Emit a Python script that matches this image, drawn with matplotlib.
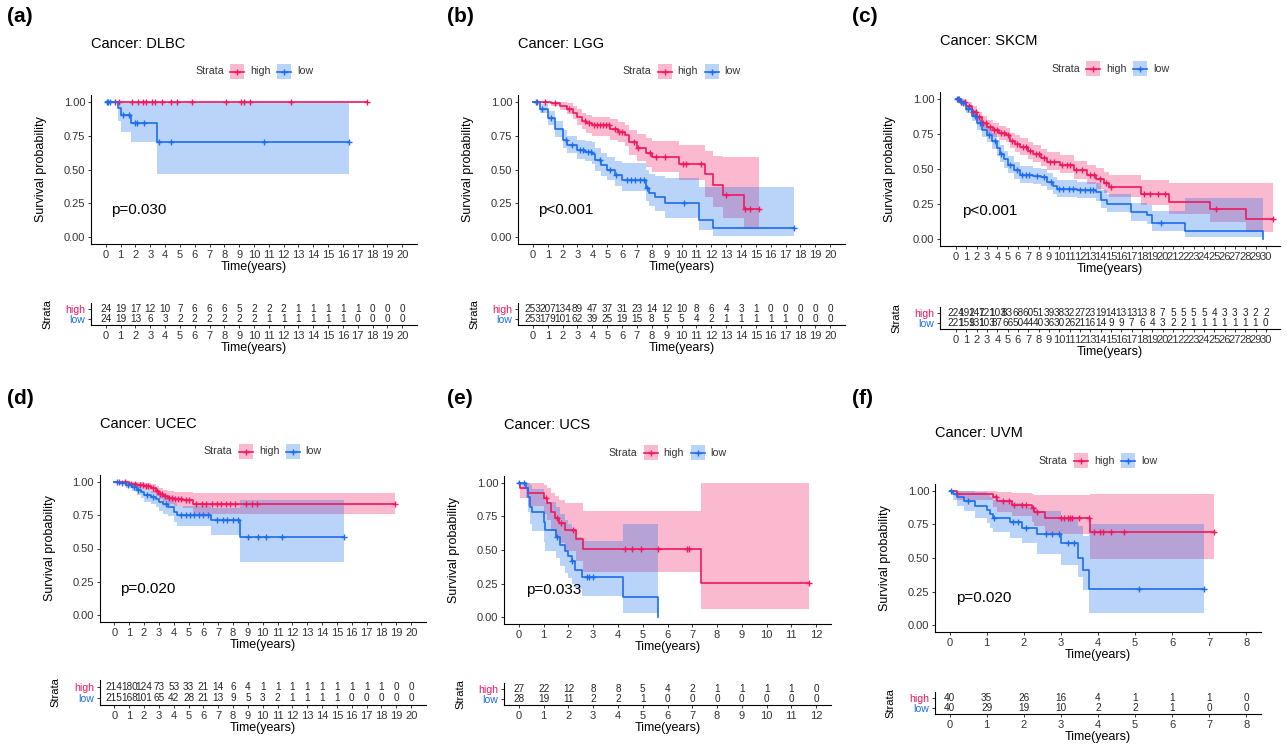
import numpy as np
import matplotlib.pyplot as plt
from matplotlib.patches import Rectangle
from matplotlib.lines import Line2D

W, H = 1287, 746
plt.rcParams['font.family'] = ['Liberation Sans', 'DejaVu Sans']

HIGH_COL = '#F0185E'
LOW_COL = '#1C6EEA'
TXT = '#333333'

# ---------------- (a) DLBC
dlbc_high_t = [0, 17.6]
dlbc_high_s = [1, 1]
dlbc_high_lo = [1, 1]
dlbc_high_hi = [1, 1]
dlbc_high_cens = [0.6, 0.9, 1.8, 2.2, 2.5, 2.7, 3.1, 3.3, 3.8, 4.4, 4.8, 5.8, 8.1, 9.1, 9.3, 9.7, 12.5, 17.6]
dlbc_low_t = [0, 0.8, 1.0, 1.7, 3.45, 16.4]
dlbc_low_s = [1, 0.955, 0.905, 0.845, 0.705, 0.705]
dlbc_low_lo = [1, 0.86, 0.78, 0.70, 0.47, 0.47]
dlbc_low_hi = [1, 1, 1, 1, 1, 1]
dlbc_low_cens = [0.05, 0.15, 0.3, 1.15, 1.55, 2.0, 2.1, 2.6, 3.6, 4.4, 10.7, 16.4]
dlbc_risk_high = [24, 19, 17, 12, 10, 7, 6, 6, 6, 5, 2, 2, 2, 1, 1, 1, 1, 1, 0, 0, 0]
dlbc_risk_low = [24, 19, 13, 6, 3, 2, 2, 2, 2, 2, 2, 1, 1, 1, 1, 1, 1, 0, 0, 0, 0]

# ---------------- (b) LGG
lgg_high_t = [0, 1.2, 1.8, 2.3, 2.7, 3.0, 3.3, 3.6, 4.0, 5.2, 5.7, 6.2, 6.5, 7.0, 7.6, 8.0, 9.8, 11.6, 12.1, 12.8, 14.2, 15.2]
lgg_high_s = [1, 0.99, 0.97, 0.95, 0.92, 0.89, 0.86, 0.84, 0.825, 0.80, 0.78, 0.757, 0.70, 0.66, 0.62, 0.59, 0.54, 0.47, 0.385, 0.31, 0.205, 0.205]
lgg_high_hi = [1, 1, 1, 0.99, 0.97, 0.95, 0.92, 0.90, 0.89, 0.87, 0.85, 0.83, 0.79, 0.76, 0.73, 0.71, 0.68, 0.64, 0.60, 0.59, 0.59, 0.59]
lgg_high_lo = [1, 0.97, 0.94, 0.91, 0.87, 0.83, 0.80, 0.77, 0.75, 0.72, 0.70, 0.67, 0.61, 0.56, 0.52, 0.48, 0.42, 0.30, 0.22, 0.14, 0.06, 0.06]
lgg_high_cens = [0.3, 0.8, 1.5, 2.4, 3.5, 3.8, 4.1, 4.3, 4.5, 4.7, 4.9, 5.1, 5.5, 5.8, 6.0, 6.8, 7.1, 7.9, 8.3, 8.9,
                 10.1, 10.3, 11.3, 13.0, 14.3, 14.6, 15.2]
lgg_low_t = [0, 0.5, 1.0, 1.5, 2.0, 2.3, 3.0, 3.5, 4.0, 4.2, 4.6, 5.0, 5.5, 6.0, 7.6, 7.8, 8.2, 8.9, 11.2, 12.1, 17.6]
lgg_low_s = [1, 0.95, 0.88, 0.80, 0.72, 0.68, 0.645, 0.63, 0.615, 0.57, 0.53, 0.50, 0.46, 0.425, 0.36, 0.33, 0.30, 0.255, 0.13, 0.065, 0.065]
lgg_low_hi = [1, 0.98, 0.93, 0.86, 0.79, 0.75, 0.72, 0.71, 0.70, 0.66, 0.62, 0.59, 0.56, 0.55, 0.50, 0.47, 0.45, 0.44, 0.37, 0.37, 0.37]
lgg_low_lo = [1, 0.92, 0.83, 0.74, 0.66, 0.62, 0.58, 0.56, 0.54, 0.49, 0.45, 0.42, 0.38, 0.34, 0.27, 0.23, 0.19, 0.14, 0.05, 0.01, 0.01]
lgg_low_cens = [0.2, 0.6, 1.2, 2.2, 2.6, 3.2, 3.4, 3.7, 3.9, 4.5, 5.2, 5.6, 6.3, 6.6, 6.9, 7.2, 7.5, 7.7, 10.2, 17.6]
lgg_risk_high = [253, 207, 134, 89, 47, 37, 31, 23, 14, 12, 10, 8, 6, 4, 3, 1, 0, 0, 0, 0, 0]
lgg_risk_low = [253, 179, 101, 62, 39, 25, 19, 15, 8, 5, 5, 4, 2, 1, 1, 1, 1, 1, 0, 0, 0]

# ---------------- (c) SKCM
skcm_high_t = [0, 0.5, 1.0, 1.5, 2.0, 2.5, 3.0, 3.6, 4.2, 4.8, 5.2, 5.7, 6.2, 7.0, 7.5, 8.2, 8.8, 10.1, 11.4, 12.7,
               13.6, 14.3, 14.8, 17.9, 20.6, 24.6, 28.1, 30.7]
skcm_high_s = [1, 0.98, 0.95, 0.91, 0.87, 0.83, 0.80, 0.78, 0.76, 0.74, 0.70, 0.68, 0.66, 0.63, 0.61, 0.58, 0.55, 0.53,
               0.49, 0.455, 0.43, 0.40, 0.37, 0.32, 0.265, 0.215, 0.14, 0.14]
skcm_high_hi = [1, 1, 0.98, 0.95, 0.91, 0.88, 0.85, 0.83, 0.81, 0.79, 0.76, 0.74, 0.72, 0.69, 0.67, 0.64, 0.62, 0.60,
                0.56, 0.53, 0.51, 0.48, 0.46, 0.42, 0.40, 0.40, 0.40, 0.40]
skcm_high_lo = [1, 0.96, 0.92, 0.87, 0.83, 0.78, 0.75, 0.73, 0.71, 0.69, 0.65, 0.62, 0.60, 0.57, 0.55, 0.52, 0.49, 0.47,
                0.43, 0.39, 0.36, 0.33, 0.30, 0.24, 0.18, 0.12, 0.05, 0.05]
skcm_high_cens = [0.2, 0.5, 0.9, 1.3, 1.6, 1.9, 2.2, 2.6, 2.9, 3.3, 3.7, 4.0, 4.4, 4.6, 5.0, 5.4, 5.9, 6.5, 6.8, 7.2,
                  7.7, 8.0, 8.5, 9.1, 9.5, 10.3, 10.7, 11.0, 11.6, 12.2, 13.0, 13.4, 13.9, 14.5, 15.0, 18.2, 18.8,
                  19.6, 20.2, 25.2, 30.7]
skcm_low_t = [0, 0.5, 1.0, 1.5, 2.0, 2.5, 3.0, 3.5, 4.0, 4.3, 4.6, 5.0, 5.6, 6.2, 7.5, 8.2, 8.8, 9.4, 9.8, 11.7, 13.6,
              14.0, 14.6, 16.6, 16.9, 18.5, 19.0, 22.2, 29.7]
skcm_low_s = [1, 0.97, 0.93, 0.88, 0.83, 0.78, 0.74, 0.70, 0.65, 0.61, 0.57, 0.53, 0.49, 0.46, 0.45, 0.44, 0.41, 0.38,
              0.36, 0.35, 0.335, 0.28, 0.25, 0.25, 0.19, 0.17, 0.115, 0.055, 0.0]
skcm_low_hi = [1, 0.99, 0.96, 0.92, 0.88, 0.83, 0.79, 0.76, 0.71, 0.67, 0.63, 0.59, 0.55, 0.52, 0.51, 0.50, 0.47, 0.44,
               0.42, 0.41, 0.40, 0.35, 0.32, 0.32, 0.26, 0.24, 0.20, 0.29, 0.29]
skcm_low_lo = [1, 0.95, 0.90, 0.84, 0.78, 0.73, 0.69, 0.64, 0.59, 0.55, 0.51, 0.47, 0.43, 0.40, 0.39, 0.38, 0.35, 0.32,
               0.30, 0.29, 0.27, 0.22, 0.19, 0.19, 0.13, 0.11, 0.06, 0.015, 0.015]
skcm_low_cens = [0.1, 0.3, 0.7, 1.2, 1.8, 2.3, 3.2, 3.8, 4.4, 5.2, 5.9, 6.4, 6.8, 7.1, 7.8, 8.5, 9.2, 10.0, 10.4, 10.9,
                 11.3, 12.0, 12.5, 13.0, 13.3, 19.8]
skcm_risk_high = [224, 192, 147, 121, 103, 83, 68, 60, 51, 39, 38, 32, 27, 23, 19, 14, 13, 13, 13, 8, 7, 5, 5, 5, 5,
                  4, 3, 3, 3, 2, 2]
skcm_risk_low = [221, 159, 131, 103, 87, 66, 50, 44, 40, 36, 30, 26, 21, 16, 14, 9, 9, 7, 6, 4, 3, 2, 2, 1, 1, 1, 1,
                 1, 1, 1, 0]

# ---------------- (d) UCEC
ucec_high_t = [0, 0.5, 1.0, 1.5, 2.0, 2.5, 2.8, 3.0, 3.3, 3.6, 4.0, 4.6, 5.3, 18.9]
ucec_high_s = [1, 0.995, 0.985, 0.975, 0.965, 0.95, 0.93, 0.91, 0.895, 0.88, 0.87, 0.86, 0.835, 0.835]
ucec_high_hi = [1, 1, 1, 0.995, 0.99, 0.98, 0.965, 0.95, 0.94, 0.93, 0.925, 0.92, 0.915, 0.915]
ucec_high_lo = [1, 0.985, 0.97, 0.95, 0.935, 0.915, 0.89, 0.87, 0.85, 0.83, 0.82, 0.80, 0.755, 0.755]
ucec_high_cens = [0.3, 0.7, 1.1, 1.4, 1.7, 1.9, 2.1, 2.3, 2.6, 2.9, 3.1, 3.2, 3.4, 3.7, 3.9, 4.1, 4.3, 4.5, 4.8, 5.0,
                  5.5, 5.9, 6.2, 6.6, 6.9, 7.2, 7.5, 7.8, 8.1, 8.9, 9.3, 9.6, 18.9]
ucec_low_t = [0, 0.3, 0.8, 1.2, 1.5, 1.8, 2.0, 2.5, 2.8, 3.0, 3.3, 3.6, 4.0, 4.2, 6.5, 8.5, 15.5]
ucec_low_s = [1, 0.99, 0.975, 0.96, 0.94, 0.92, 0.90, 0.885, 0.87, 0.845, 0.83, 0.81, 0.775, 0.75, 0.71, 0.585, 0.585]
ucec_low_hi = [1, 1, 0.995, 0.985, 0.97, 0.955, 0.94, 0.93, 0.92, 0.90, 0.89, 0.87, 0.84, 0.82, 0.80, 0.865, 0.865]
ucec_low_lo = [1, 0.98, 0.95, 0.93, 0.90, 0.875, 0.85, 0.83, 0.81, 0.78, 0.76, 0.74, 0.70, 0.665, 0.60, 0.40, 0.40]
ucec_low_cens = [0.2, 0.5, 0.9, 1.3, 1.6, 2.2, 2.6, 3.5, 4.5, 4.8, 5.1, 5.4, 5.7, 6.0, 6.3, 6.9, 7.3, 7.6, 8.0, 8.3,
                 9.0, 9.7, 10.2, 11.3, 15.5]
ucec_risk_high = [214, 180, 124, 73, 53, 33, 21, 14, 6, 4, 1, 1, 1, 1, 1, 1, 1, 1, 1, 0, 0]
ucec_risk_low = [215, 168, 101, 65, 42, 28, 21, 13, 9, 5, 3, 2, 1, 1, 1, 1, 0, 0, 0, 0, 0]

# ---------------- (e) UCS
ucs_high_t = [0, 0.05, 0.35, 1.0, 1.15, 1.3, 1.45, 1.6, 1.85, 2.3, 2.6, 7.35, 11.7]
ucs_high_s = [1, 0.963, 0.926, 0.89, 0.85, 0.78, 0.74, 0.70, 0.65, 0.58, 0.51, 0.255, 0.255]
ucs_high_hi = [1, 1, 1, 0.98, 0.96, 0.92, 0.90, 0.87, 0.85, 0.85, 0.79, 1.0, 1.0]
ucs_high_lo = [1, 0.89, 0.83, 0.77, 0.72, 0.64, 0.60, 0.55, 0.49, 0.42, 0.335, 0.065, 0.065]
ucs_high_cens = [1.1, 1.55, 1.7, 2.2, 4.3, 4.55, 4.95, 5.6, 6.8, 6.85, 11.7]
ucs_low_t = [0, 0.3, 0.38, 0.45, 0.52, 1.0, 1.05, 1.5, 1.65, 1.85, 2.0, 2.15, 2.25, 2.55, 4.2, 5.6]
ucs_low_s = [1, 0.964, 0.893, 0.82, 0.785, 0.71, 0.65, 0.60, 0.54, 0.49, 0.455, 0.415, 0.355, 0.30, 0.15, 0.0]
ucs_low_hi = [1, 1, 1, 0.98, 0.95, 0.90, 0.86, 0.82, 0.77, 0.72, 0.69, 0.65, 0.60, 0.57, 0.69, 0.69]
ucs_low_lo = [1, 0.89, 0.78, 0.69, 0.64, 0.56, 0.49, 0.44, 0.38, 0.33, 0.29, 0.25, 0.21, 0.16, 0.03, 0.03]
ucs_low_cens = [0.0, 0.2, 1.55, 2.15, 2.75, 2.85, 3.0]
ucs_risk_high = [27, 22, 12, 8, 8, 5, 4, 2, 1, 1, 1, 1, 0]
ucs_risk_low = [28, 19, 11, 2, 2, 1, 0, 0, 0, 0, 0, 0, 0]

# ---------------- (f) UVM
uvm_high_t = [0, 0.2, 1.18, 1.27, 1.68, 2.22, 2.28, 2.58, 3.79, 7.14]
uvm_high_s = [1, 0.975, 0.95, 0.92, 0.895, 0.87, 0.845, 0.80, 0.695, 0.695]
uvm_high_hi = [1, 1, 1, 0.99, 0.985, 0.975, 0.97, 0.965, 0.975, 0.975]
uvm_high_lo = [1, 0.93, 0.88, 0.84, 0.81, 0.77, 0.74, 0.68, 0.49, 0.49]
uvm_high_cens = [0.2, 1.25, 1.45, 1.6, 1.75, 1.95, 2.05, 2.25, 2.35, 3.0, 3.1, 3.2, 3.25, 3.3, 3.5, 3.75, 3.9, 4.05,
                 4.15, 4.35, 4.7, 7.14]
uvm_low_t = [0, 0.1, 0.2, 0.38, 0.7, 1.0, 1.1, 1.18, 1.63, 1.95, 2.35, 3.0, 3.47, 3.6, 3.75, 6.85]
uvm_low_s = [1, 0.975, 0.95, 0.925, 0.89, 0.86, 0.825, 0.80, 0.765, 0.725, 0.68, 0.61, 0.50, 0.41, 0.27, 0.27]
uvm_low_hi = [1, 1, 1, 1, 0.99, 0.97, 0.95, 0.93, 0.91, 0.88, 0.85, 0.80, 0.74, 0.66, 0.75, 0.75]
uvm_low_lo = [1, 0.93, 0.89, 0.85, 0.80, 0.76, 0.72, 0.69, 0.65, 0.61, 0.53, 0.45, 0.36, 0.26, 0.09, 0.09]
uvm_low_cens = [0.05, 0.5, 1.2, 1.7, 1.85, 2.05, 2.6, 2.75, 2.95, 3.2, 3.35, 5.1, 6.85]
uvm_risk_high = [40, 35, 26, 16, 4, 1, 1, 1, 0]
uvm_risk_low = [40, 29, 19, 10, 2, 2, 1, 0, 0]


def fx(x):
    return x / W


def fy(y):
    return 1 - y / H


def add_axes_px(fig, l, t, r, b):
    return fig.add_axes([l / W, 1 - b / H, (r - l) / W, (b - t) / H])


def style_axes(ax):
    for side in ['top', 'right']:
        ax.spines[side].set_visible(False)
    for side in ['left', 'bottom']:
        ax.spines[side].set_linewidth(0.8)
        ax.spines[side].set_color('black')
    ax.tick_params(length=2.5, width=0.7, color='#333333', labelsize=8, labelcolor=TXT, pad=1.5)


def step_value(t, s, x):
    i = np.searchsorted(t, x, side='right') - 1
    return np.asarray(s)[np.clip(i, 0, len(s) - 1)]


def draw_legend(fig, cx, cy):
    x0 = cx - 59
    fig.text(fx(x0), fy(cy), 'Strata', fontsize=7.7, color=TXT, ha='left', va='center')
    for bx, lab, col in [(x0 + 35, 'high', HIGH_COL), (x0 + 82, 'low', LOW_COL)]:
        fig.add_artist(Rectangle((fx(bx), fy(cy + 7.5)), 14 / W, 15 / H, transform=fig.transFigure,
                                 facecolor=col, alpha=0.3, lw=0))
        fig.add_artist(Line2D([fx(bx), fx(bx + 14)], [fy(cy), fy(cy)], transform=fig.transFigure,
                              color=col, lw=1.2))
        fig.add_artist(Line2D([fx(bx + 7)], [fy(cy)], transform=fig.transFigure, color=col,
                              marker='+', markersize=5, mew=1))
        fig.text(fx(bx + 20), fy(cy), lab, fontsize=7.7, color=TXT, ha='left', va='center')


panels = [
    dict(tag='(a)', tag_xy=(7, 17), name='DLBC', box=(91, 95, 417, 244), tbl=(303, 325), xlim=(-1, 21),
         xmax=20, pval='p=0.030', px=0.35,
         high=(dlbc_high_t, dlbc_high_s, dlbc_high_lo, dlbc_high_hi, dlbc_high_cens),
         low=(dlbc_low_t, dlbc_low_s, dlbc_low_lo, dlbc_low_hi, dlbc_low_cens),
         risk=(dlbc_risk_high, dlbc_risk_low)),
    dict(tag='(b)', tag_xy=(447, 17), name='LGG', box=(518, 95, 845, 244), tbl=(303, 325), xlim=(-1, 21),
         xmax=20, pval='p<0.001', px=0.35,
         high=(lgg_high_t, lgg_high_s, lgg_high_lo, lgg_high_hi, lgg_high_cens),
         low=(lgg_low_t, lgg_low_s, lgg_low_lo, lgg_low_hi, lgg_low_cens),
         risk=(lgg_risk_high, lgg_risk_low)),
    dict(tag='(c)', tag_xy=(852, 17), name='SKCM', box=(940, 92, 1280, 246), tbl=(307, 329), xlim=(-1.55, 31.37),
         xmax=30, pval='p<0.001', px=0.6,
         high=(skcm_high_t, skcm_high_s, skcm_high_lo, skcm_high_hi, skcm_high_cens),
         low=(skcm_low_t, skcm_low_s, skcm_low_lo, skcm_low_hi, skcm_low_cens),
         risk=(skcm_risk_high, skcm_risk_low)),
    dict(tag='(d)', tag_xy=(7, 398), name='UCEC', box=(99.5, 475, 426, 622), tbl=(680, 705), xlim=(-1, 21),
         xmax=20, pval='p=0.020', px=0.38,
         high=(ucec_high_t, ucec_high_s, ucec_high_lo, ucec_high_hi, ucec_high_cens),
         low=(ucec_low_t, ucec_low_s, ucec_low_lo, ucec_low_hi, ucec_low_cens),
         risk=(ucec_risk_high, ucec_risk_low)),
    dict(tag='(e)', tag_xy=(447, 399), name='UCS', box=(504, 476, 831, 624), tbl=(683, 705), xlim=(-0.6, 12.6),
         xmax=12, pval='p=0.033', px=0.28,
         high=(ucs_high_t, ucs_high_s, ucs_high_lo, ucs_high_hi, ucs_high_cens),
         low=(ucs_low_t, ucs_low_s, ucs_low_lo, ucs_low_hi, ucs_low_cens),
         risk=(ucs_risk_high, ucs_risk_low)),
    dict(tag='(f)', tag_xy=(852, 399), name='UVM', box=(934.7, 484, 1261, 632), tbl=(692, 714), xlim=(-0.4, 8.4),
         xmax=8, pval='p=0.020', px=0.17,
         high=(uvm_high_t, uvm_high_s, uvm_high_lo, uvm_high_hi, uvm_high_cens),
         low=(uvm_low_t, uvm_low_s, uvm_low_lo, uvm_low_hi, uvm_low_cens),
         risk=(uvm_risk_high, uvm_risk_low)),
]

fig = plt.figure(figsize=(W / 100, H / 100), dpi=100)

for p in panels:
    l, t, r, b = p['box']
    ticks = list(range(p['xmax'] + 1))
    ax = add_axes_px(fig, l, t, r, b)
    style_axes(ax)
    ax.set_xlim(*p['xlim'])
    ax.set_ylim(-0.05, 1.05)
    ax.set_xticks(ticks)
    ax.set_yticks([0, 0.25, 0.5, 0.75, 1.0])
    ax.set_yticklabels(['0.00', '0.25', '0.50', '0.75', '1.00'])

    curves = [(p['high'], HIGH_COL), (p['low'], LOW_COL)]
    for (ct, cs, clo, chi, cc), col in curves:
        ax.fill_between(ct, clo, chi, step='post', color=col, alpha=0.3, lw=0)
    for (ct, cs, clo, chi, cc), col in curves:
        ax.step(ct, cs, where='post', color=col, lw=1.2)
        ax.plot(cc, step_value(ct, cs, cc), ls='none', marker='+', color=col, markersize=5, mew=1)

    ax.text(p['px'], 0.2, p['pval'], fontsize=11, color='black', ha='left', va='center')

    cx = (l + r) / 2
    fig.text(fx(l), fy(t - 51), 'Cancer: ' + p['name'], fontsize=10.5, color='black', ha='left', va='center')
    draw_legend(fig, cx, t - 23.5)
    fig.text(fx(cx), fy(b + 23), 'Time(years)', fontsize=9, color='black', ha='center', va='center')
    fig.text(fx(l - 50), fy((t + b) / 2), 'Survival probability', fontsize=9, color='black',
             rotation=90, ha='center', va='center')
    fig.text(fx(p['tag_xy'][0]), fy(p['tag_xy'][1]), p['tag'], fontsize=15, fontweight='bold',
             ha='left', va='center')

    # risk table
    tt, tb = p['tbl']
    tax = add_axes_px(fig, l, tt, r, tb)
    style_axes(tax)
    tax.set_xlim(*p['xlim'])
    tax.set_ylim(-0.6, 1.6)
    tax.set_xticks(ticks)
    tax.set_yticks([1, 0])
    tax.set_yticklabels(['high', 'low'], fontsize=7.6)
    tax.get_yticklabels()[0].set_color(HIGH_COL)
    tax.get_yticklabels()[1].set_color(LOW_COL)
    rh, rl = p['risk']
    for i, v in enumerate(rh):
        tax.text(ticks[i], 1, str(v), fontsize=7.2, color='#222222', ha='center', va='center')
    for i, v in enumerate(rl):
        tax.text(ticks[i], 0, str(v), fontsize=7.2, color='#222222', ha='center', va='center')
    fig.text(fx(cx), fy(tb + 23), 'Time(years)', fontsize=9, color='black', ha='center', va='center')
    fig.text(fx(l - 44), fy((tt + tb) / 2), 'Strata', fontsize=8, color='black',
             rotation=90, ha='center', va='center')

fig.savefig('out.png', dpi=100)
